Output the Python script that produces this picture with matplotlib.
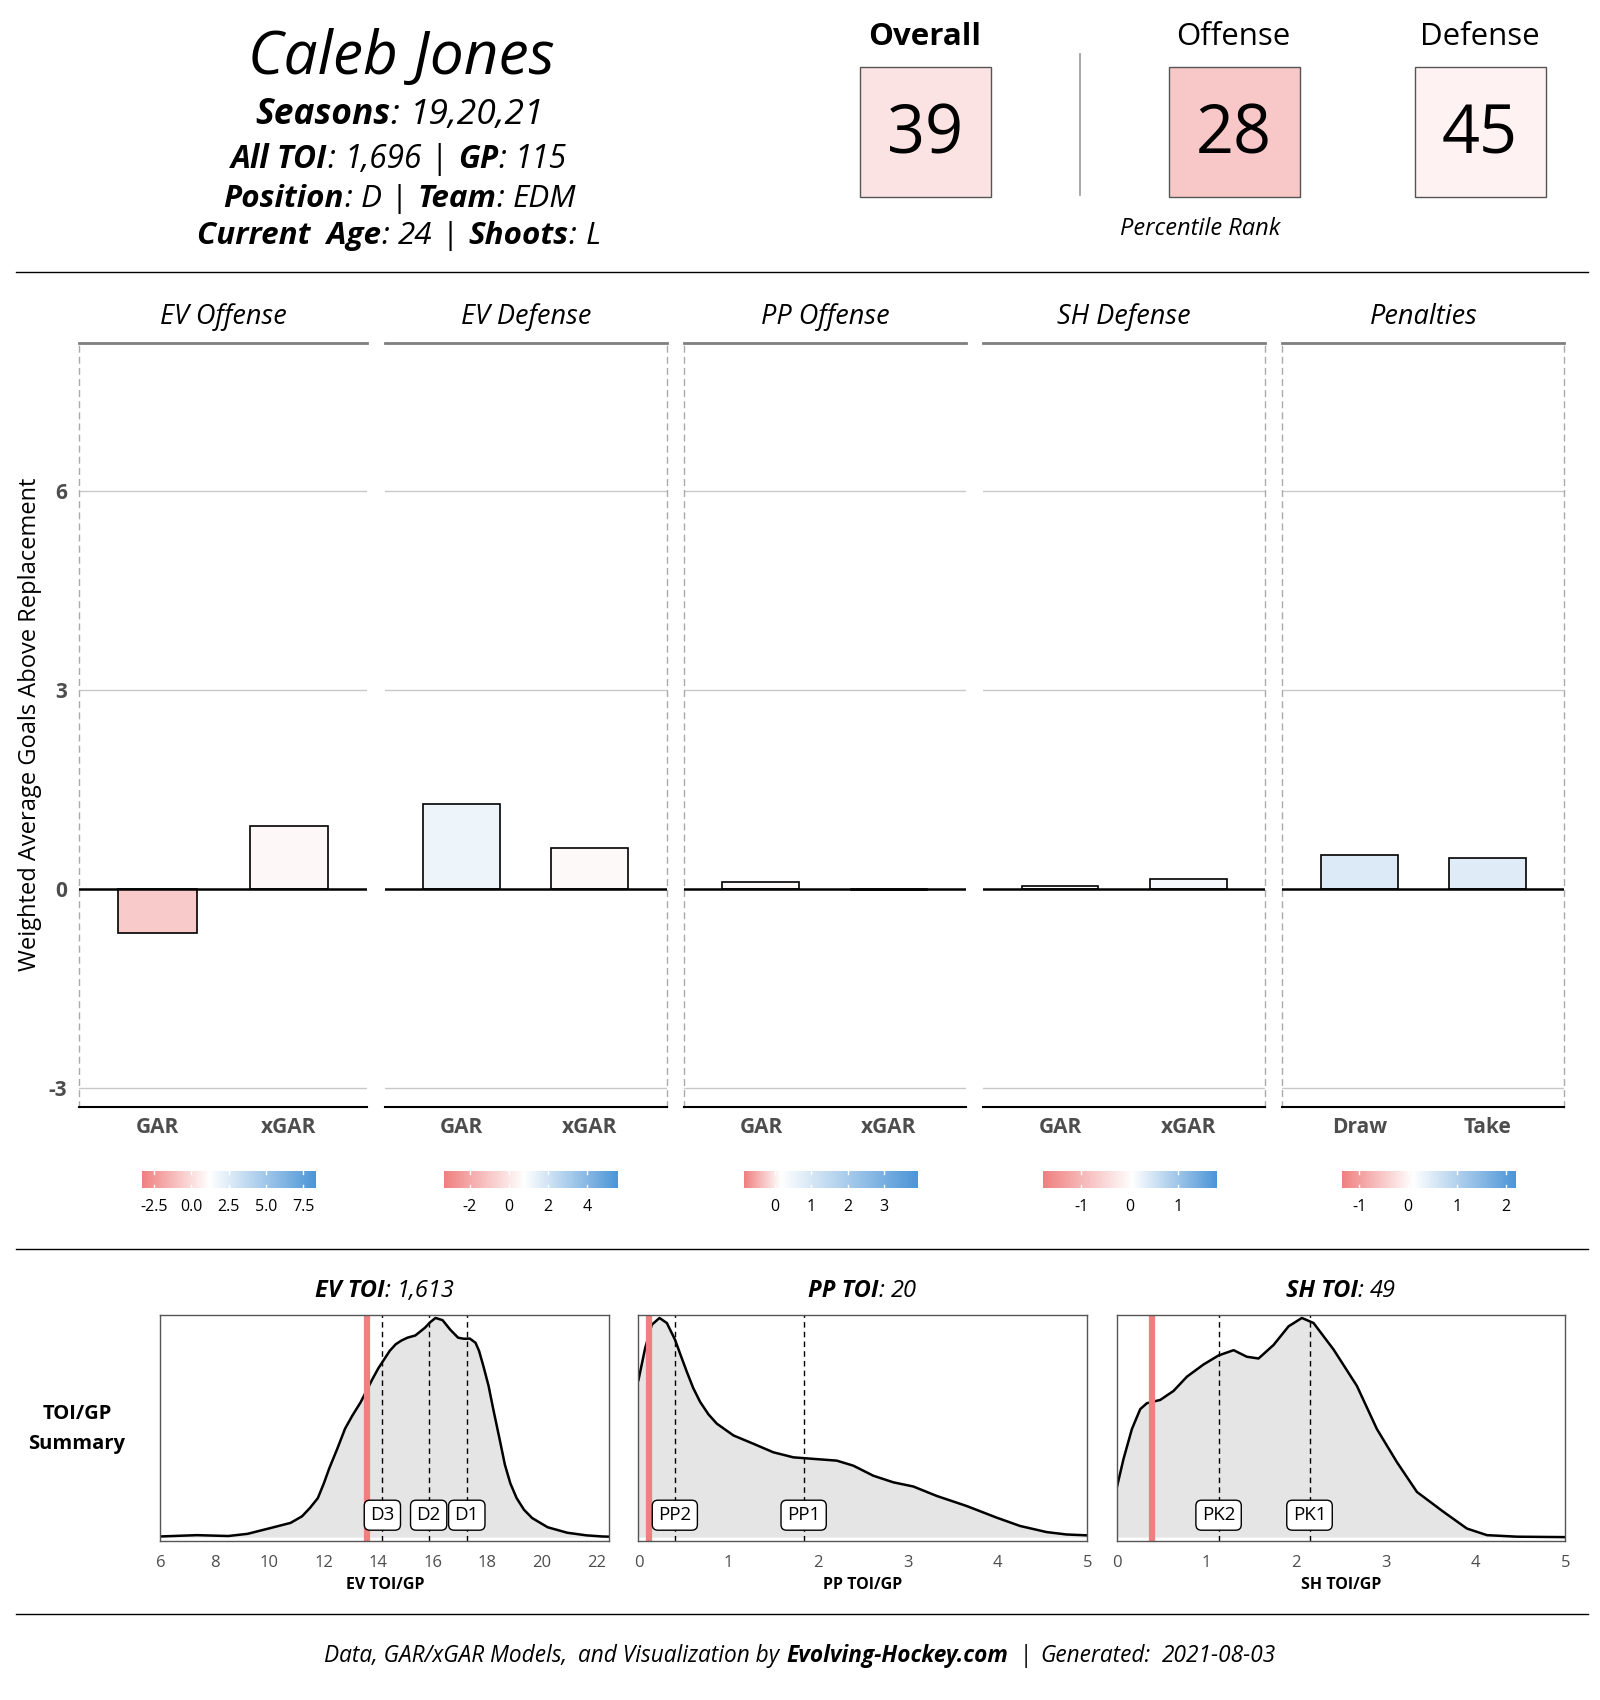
import numpy as np
import matplotlib
matplotlib.use("Agg")
import matplotlib.pyplot as plt
from matplotlib.colors import LinearSegmentedColormap, to_rgb
from matplotlib.lines import Line2D
from matplotlib.patches import Rectangle

plt.rcParams['font.family'] = ['Open Sans', 'DejaVu Sans']

# player card
player = "Caleb Jones"
seasons = "19,20,21"
all_toi = "1,696"
games = "115"
position = "D"
team = "EDM"
age = "24"
shoots = "L"
generated = "2021-08-03"

rank_names = ["Overall", "Offense", "Defense"]
rank_values = [39, 28, 45]

# GAR / xGAR bars
panel_names = ["EV Offense", "EV Defense", "PP Offense", "SH Defense", "Penalties"]
bar_labels = [["GAR", "xGAR"], ["GAR", "xGAR"], ["GAR", "xGAR"], ["GAR", "xGAR"], ["Draw", "Take"]]
bar_values = [[-0.67, 0.95], [1.28, 0.62], [0.10, -0.02], [0.05, 0.15], [0.51, 0.47]]
scale_lo = [-3.3, -3.3, -0.85, -1.8, -1.35]
scale_hi = [8.3, 5.6, 3.9, 1.8, 2.2]
scale_mid = [1.2, 0.8, 0.15, 0.05, 0.1]
cbar_ticks = [[-2.5, 0.0, 2.5, 5.0, 7.5], [-2, 0, 2, 4], [0, 1, 2, 3], [-1, 0, 1], [-1, 0, 1, 2]]
cbar_ticklabels = [["-2.5", "0.0", "2.5", "5.0", "7.5"], ["-2", "0", "2", "4"],
                   ["0", "1", "2", "3"], ["-1", "0", "1"], ["-1", "0", "1", "2"]]
y_ticks = [-3, 0, 3, 6]

# TOI/GP densities (peak scaled to 1)
ev_toi = "1,613"
ev_x = [6.0, 7.34, 8.49, 9.2, 10.06, 10.78, 11.2, 11.49, 11.78, 12.0, 12.2, 12.5, 12.78, 13.05,
        13.35, 13.78, 14.0, 14.21, 14.42, 14.64, 14.85, 15.07, 15.36, 15.71, 15.9, 16.1, 16.36,
        16.64, 16.93, 17.15, 17.36, 17.57, 17.7, 17.86, 18.05, 18.22, 18.45, 18.65, 18.85, 19.08,
        19.35, 19.65, 20.22, 20.94, 21.65, 22.22, 22.48]
ev_y = [0.003, 0.009, 0.005, 0.015, 0.042, 0.065, 0.095, 0.133, 0.178, 0.245, 0.314, 0.405,
        0.495, 0.555, 0.615, 0.72, 0.77, 0.81, 0.85, 0.88, 0.897, 0.91, 0.92, 0.955, 0.98, 1.0,
        0.99, 0.947, 0.91, 0.905, 0.906, 0.887, 0.85, 0.78, 0.69, 0.585, 0.45, 0.33, 0.245,
        0.178, 0.125, 0.087, 0.045, 0.02, 0.008, 0.003, 0.002]
ev_player = 13.58
ev_tiers = [14.15, 15.85, 17.25]
ev_tier_labels = ["D3", "D2", "D1"]
ev_ticks = [6, 8, 10, 12, 14, 16, 18, 20, 22]

pp_toi = "20"
pp_x = [0.0, 0.074, 0.148, 0.234, 0.316, 0.408, 0.47, 0.538, 0.61, 0.687, 0.78, 0.872, 1.058,
        1.28, 1.503, 1.726, 1.949, 2.209, 2.394, 2.617, 2.84, 3.062, 3.322, 3.656, 3.99, 4.25,
        4.547, 4.77, 5.0]
pp_y = [0.717, 0.862, 0.969, 1.0, 0.977, 0.9, 0.83, 0.755, 0.68, 0.617, 0.56, 0.518, 0.464,
        0.426, 0.387, 0.364, 0.357, 0.349, 0.326, 0.28, 0.25, 0.231, 0.188, 0.142, 0.089, 0.051,
        0.023, 0.012, 0.008]
pp_player = 0.115
pp_tiers = [0.405, 1.84]
pp_tier_labels = ["PP2", "PP1"]

sh_toi = "49"
sh_x = [0.0, 0.078, 0.171, 0.264, 0.338, 0.487, 0.635, 0.784, 0.97, 1.137, 1.304, 1.452, 1.582,
        1.75, 1.917, 2.065, 2.195, 2.418, 2.678, 2.901, 3.124, 3.347, 3.644, 3.904, 4.127,
        4.461, 5.0]
sh_y = [0.221, 0.357, 0.493, 0.584, 0.611, 0.626, 0.667, 0.732, 0.788, 0.829, 0.853, 0.823, 0.815,
        0.877, 0.962, 1.0, 0.977, 0.856, 0.69, 0.493, 0.342, 0.206, 0.115, 0.039, 0.009,
        0.002, 0.0]
sh_player = 0.40
sh_tiers = [1.137, 2.15]
sh_tier_labels = ["PK2", "PK1"]
toi_ticks = [0, 1, 2, 3, 4, 5]

RED = '#F08080'
BLUE = '#4C95D7'
GREY_TXT = '#4d4d4d'

W, H = 1476.0, 1568.0


def fx(x):
    return x / W


def fy(y):
    return 1 - y / H


fig = plt.figure(figsize=(16, 17), dpi=100)
renderer = fig.canvas.get_renderer()
fig_w = fig.get_figwidth() * fig.dpi


def rich_text(x, y, parts, size, ha='center'):
    # parts: (text, weight, style) tuples, or a float gap in em
    objs = []
    for p in parts:
        if isinstance(p, (int, float)):
            objs.append(p)
        else:
            t = fig.text(0, y, p[0], fontsize=size, fontweight=p[1], style=p[2],
                         va='baseline', ha='left')
            objs.append(t)
    em = size * fig.dpi / 72.0
    widths = []
    for o in objs:
        if isinstance(o, (int, float)):
            widths.append(o * em)
        else:
            widths.append(o.get_window_extent(renderer).width)
    total = sum(widths)
    x0 = x * fig_w - (total / 2 if ha == 'center' else 0)
    for o, w in zip(objs, widths):
        if not isinstance(o, (int, float)):
            o.set_x(x0 / fig_w)
        x0 += w


def hline(y, x0=15, x1=1465, color='black', lw=1.0):
    fig.add_artist(Line2D([fx(x0), fx(x1)], [fy(y), fy(y)], color=color, lw=lw,
                          transform=fig.transFigure))


def mix(c, frac):
    r = np.array(to_rgb(c))
    return tuple(1 - frac * (1 - r))


# ---- header left
fig.text(fx(370), fy(68), player, fontsize=43.5, style='italic', ha='center', va='baseline')
rich_text(fx(369), fy(114), [("Seasons", 'bold', 'italic'), (":", 'normal', 'italic'), 0.3,
                             (seasons, 'normal', 'italic')], 25.5)
rich_text(fx(368), fy(155), [("All TOI", 'bold', 'italic'), (":", 'normal', 'italic'), 0.28,
                             (all_toi, 'normal', 'italic'), 0.3, ("|", 'normal', 'normal'), 0.3,
                             ("GP", 'bold', 'italic'), (":", 'normal', 'italic'), 0.28,
                             (games, 'normal', 'italic')], 22.8)
rich_text(fx(369), fy(191), [("Position", 'bold', 'italic'), (":", 'normal', 'italic'), 0.28,
                             (position, 'normal', 'italic'), 0.3, ("|", 'normal', 'normal'), 0.3,
                             ("Team", 'bold', 'italic'), (":", 'normal', 'italic'), 0.28,
                             (team, 'normal', 'italic')], 22.6)
rich_text(fx(368), fy(225), [("Current  Age", 'bold', 'italic'), (":", 'normal', 'italic'), 0.28,
                             (age, 'normal', 'italic'), 0.3, ("|", 'normal', 'normal'), 0.3,
                             ("Shoots", 'bold', 'italic'), (":", 'normal', 'italic'), 0.28,
                             (shoots, 'normal', 'italic')], 22.6)

# ---- header right: percentile boxes
box_x = [793, 1078, 1305]
for i, (name, val) in enumerate(zip(rank_names, rank_values)):
    cx = box_x[i] + 60
    fig.text(fx(cx), fy(34), name, fontsize=22.5, ha='center', va='center',
             fontweight='bold' if i == 0 else 'normal')
    col = mix(RED, (50 - val) / 50.0)
    fig.add_artist(Rectangle((fx(box_x[i]), fy(182)), fx(121), 120 / H, transform=fig.transFigure,
                             fc=col, ec='#555555', lw=1))
    fig.text(fx(cx), fy(125), str(val), fontsize=48, ha='center', va='center')
fig.add_artist(Line2D([fx(996), fx(996)], [fy(50), fy(180)], color='#999999', lw=1.2,
                      transform=fig.transFigure))
fig.text(fx(1107), fy(211), "Percentile Rank", fontsize=17, style='italic', ha='center', va='center')

hline(251)
hline(1152)
hline(1489)

# ---- GAR bars
lefts = [73, 355, 631, 907, 1183]
widths = [266, 260, 260, 260, 260]
dashed_left = [True, False, True, False, True]
dashed_right = [False, True, False, True, True]
for i in range(5):
    ax = fig.add_axes([fx(lefts[i]), fy(1021), fx(widths[i]), (1021 - 316) / H])
    ax.set_xlim(0.4, 2.6)
    ax.set_ylim(-3.29, 8.24)
    lo, hi, mid = scale_lo[i], scale_hi[i], scale_mid[i]
    cmap = LinearSegmentedColormap.from_list(
        'g%d' % i, [(0, RED), ((mid - lo) / (hi - lo), 'white'), (1, BLUE)])
    cols = [cmap((v - lo) / (hi - lo)) for v in bar_values[i]]
    for yt in y_ticks:
        if yt != 0:
            ax.axhline(yt, color='#c8c8c8', lw=1, zorder=0)
    ax.bar([1, 2], bar_values[i], width=0.6, color=cols, edgecolor='black', lw=1.2, zorder=2)
    ax.axhline(0, color='black', lw=1.8, zorder=3)
    for s in ax.spines.values():
        s.set_visible(False)
    ax.spines['top'].set_visible(True)
    ax.spines['top'].set_color('#7f7f7f')
    ax.spines['top'].set_linewidth(2)
    ax.spines['bottom'].set_visible(True)
    ax.spines['bottom'].set_color('black')
    ax.spines['bottom'].set_linewidth(1.5)
    for side, on in (('left', dashed_left[i]), ('right', dashed_right[i])):
        if on:
            ax.spines[side].set_visible(True)
            ax.spines[side].set_color('#aaaaaa')
            ax.spines[side].set_linewidth(1)
            ax.spines[side].set_linestyle((0, (4, 4)))
    ax.set_xticks([1, 2], bar_labels[i])
    ax.tick_params(axis='x', length=0, pad=7, labelsize=15, labelcolor=GREY_TXT)
    for lab in ax.get_xticklabels():
        lab.set_fontweight('bold')
    if i == 0:
        ax.set_yticks(y_ticks, [str(v) for v in y_ticks])
        ax.tick_params(axis='y', length=0, pad=9, labelsize=15, labelcolor=GREY_TXT)
        for lab in ax.get_yticklabels():
            lab.set_fontweight('bold')
    else:
        ax.set_yticks([])
    fig.text(fx(lefts[i] + widths[i] / 2), fy(292), panel_names[i], fontsize=19.5,
             style='italic', ha='center', va='center')

    # colour bar legend
    ccx = lefts[i] + widths[i] / 2 + 5
    cax = fig.add_axes([fx(ccx - 80), fy(1096), fx(160), 16 / H])
    cax.imshow(np.linspace(lo, hi, 256)[None, :], cmap=cmap, vmin=lo, vmax=hi,
               extent=[lo, hi, 0, 1], aspect='auto')
    for t in cbar_ticks[i]:
        cax.plot([t, t], [0, 0.2], color='white', lw=1)
        cax.plot([t, t], [0.8, 1], color='white', lw=1)
    cax.set_xlim(lo, hi)
    cax.set_ylim(0, 1)
    cax.set_xticks(cbar_ticks[i], cbar_ticklabels[i])
    cax.set_yticks([])
    cax.tick_params(axis='x', length=0, pad=8, labelsize=11.5)
    for s in cax.spines.values():
        s.set_visible(False)

fig.text(fx(28), fy(668), "Weighted Average Goals Above Replacement", rotation=90,
         fontsize=17, ha='center', va='center')

# ---- TOI/GP densities
dens = [
    ("EV", ev_toi, ev_x, ev_y, ev_player, ev_tiers, ev_tier_labels, ev_ticks, (6, 22.48), 148),
    ("PP", pp_toi, pp_x, pp_y, pp_player, pp_tiers, pp_tier_labels, toi_ticks, (0, 5), 589),
    ("SH", sh_toi, sh_x, sh_y, sh_player, sh_tiers, sh_tier_labels, toi_ticks, (0, 5), 1030),
]
for key, toi, xs, ys, pval, tiers, tlabs, ticks, xl, left in dens:
    ax = fig.add_axes([fx(left), fy(1421), fx(414), (1421 - 1213) / H])
    ax.fill_between(xs, ys, 0, color='#e5e5e5', lw=0)
    ax.plot(xs, ys, color='black', lw=1.8, solid_joinstyle='round')
    ax.axvline(pval, color=RED, lw=4.5)
    for t, lab in zip(tiers, tlabs):
        ax.axvline(t, color='black', lw=1, ls=(0, (4, 3)))
        ax.text(t, 0.1, lab, ha='center', va='center', fontsize=13.5,
                bbox=dict(boxstyle='round,pad=0.32,rounding_size=0.3', fc='white', ec='black', lw=1))
    ax.set_xlim(*xl)
    ax.set_ylim(-0.016, 1.013)
    ax.set_xticks(ticks, [str(t) for t in ticks])
    ax.set_yticks([])
    ax.tick_params(axis='x', length=0, pad=10, labelsize=12, labelcolor=GREY_TXT)
    for s in ax.spines.values():
        s.set_color('#555555')
        s.set_linewidth(1)
    ax.set_xlabel(key + " TOI/GP", fontsize=11.5, fontweight='bold', labelpad=5)
    cx = (left + 207) / W
    rich_text(cx, fy(1196), [(key + " TOI", 'bold', 'italic'), (":", 'normal', 'italic'), 0.28,
                             (toi, 'normal', 'italic')], 17)

fig.text(fx(71), fy(1318), "TOI/GP\nSummary", fontsize=14.5, fontweight='bold',
         ha='center', va='center', linespacing=1.7)

# ---- footer
rich_text(0.5, fy(1533), [("Data, GAR/xGAR Models,", 'normal', 'italic'), 0.5,
                          ("and Visualization by", 'normal', 'italic'), 0.3,
                          ("Evolving-Hockey.com", 'bold', 'italic'), 0.5,
                          ("|", 'normal', 'normal'), 0.4,
                          ("Generated:", 'normal', 'italic'), 0.5,
                          (generated, 'normal', 'italic')], 16.3)

fig.savefig("out.png", dpi=100)
